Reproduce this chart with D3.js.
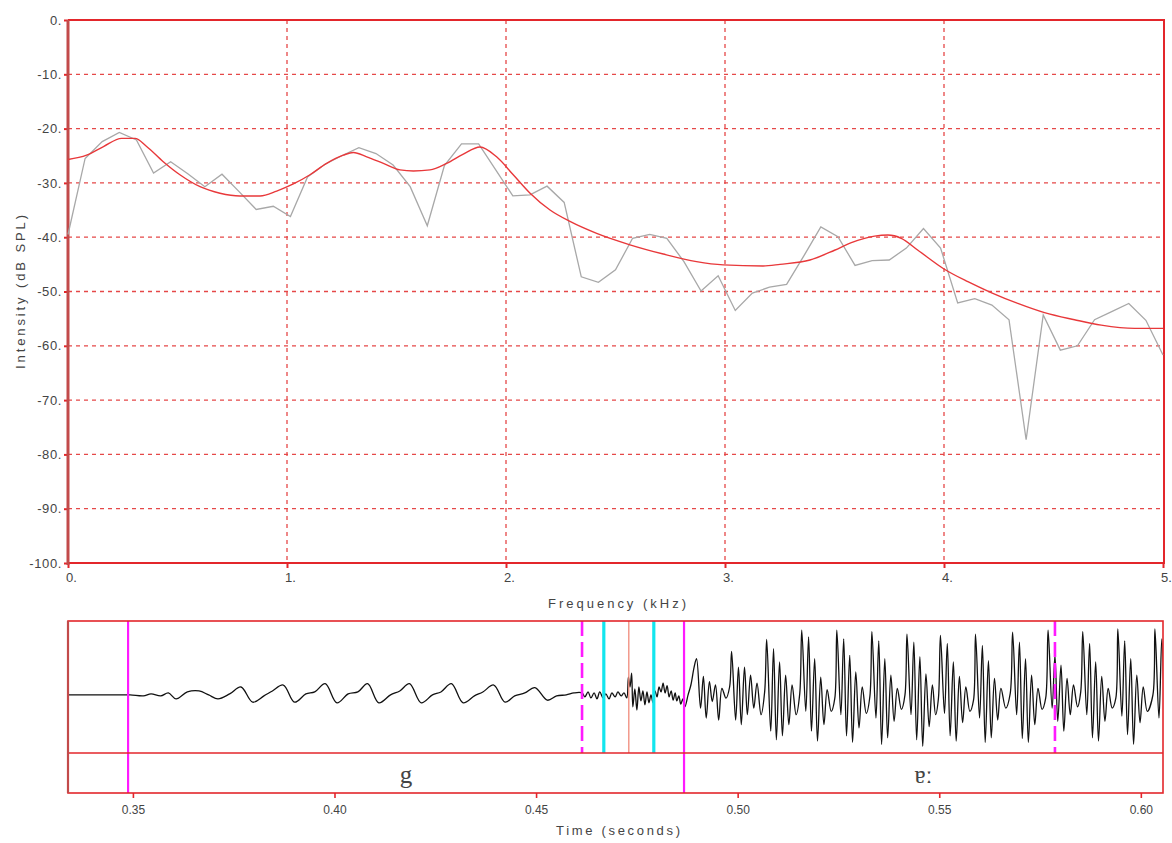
<!DOCTYPE html>
<html><head><meta charset="utf-8">
<script src="https://cdn.jsdelivr.net/npm/d3@7"></script>
<style>
body{margin:0;background:#fff;}
svg{display:block;}
text{font-family:"Liberation Sans",Arial,sans-serif;fill:#444;}
</style></head>
<body>
<svg id="chart" width="1172" height="843"></svg>
<script>
// ---------- DATA ----------
const binWidthKHz = 0.078125;
const spectrumDB = [-39.5,-25.5,-22.4,-20.7,-22.1,-28.2,-26.1,-28.3,-30.7,-28.4,-31.6,-34.9,-34.3,-36.2,-28.9,-26.6,
 -25.0,-23.5,-24.6,-26.7,-30.7,-37.9,-26.8,-22.8,-22.8,-27.6,-32.4,-32.2,-30.6,-33.6,-47.3,-48.3,-46.0,-40.2,-39.5,
 -40.2,-44.5,-49.9,-47.1,-53.5,-50.3,-49.2,-48.7,-43.5,-38.1,-39.9,-45.2,-44.3,-44.2,-42.0,-38.4,-42.0,-52.1,-51.3,
 -52.5,-55.2,-77.3,-54.3,-60.8,-60.0,-55.2,-53.7,-52.2,-55.3,-61.7];
const envelopeKHz = [0,0.085,0.162,0.245,0.306,0.359,0.435,0.511,0.603,0.694,0.785,0.877,0.953,1.029,1.105,1.181,1.257,1.303,
 1.364,1.440,1.516,1.577,1.653,1.729,1.805,1.881,1.957,2.033,2.110,2.201,2.292,2.414,2.566,2.718,2.870,2.992,3.174,3.251,
 3.388,3.500,3.577,3.683,3.744,3.805,3.881,4.002,4.109,4.215,4.337,4.459,4.596,4.718,4.870,5.000];
const envelopeDB = [-25.7,-24.9,-23.3,-21.8,-21.8,-23.3,-26.1,-28.5,-30.7,-31.9,-32.4,-32.4,-31.5,-30.2,-28.5,-26.4,-24.9,-24.4,
 -25.2,-26.4,-27.6,-27.8,-27.6,-26.4,-24.7,-23.4,-25.2,-28.5,-31.9,-35.0,-37.1,-39.3,-41.4,-43.1,-44.5,-45.1,-45.3,-45.0,
 -44.2,-42.4,-41.0,-39.8,-39.6,-40.2,-42.4,-45.9,-48.2,-50.2,-52.2,-53.9,-55.2,-56.2,-56.8,-56.8];
const freqTicks = [0,1,2,3,4,5];
const freqTickLabels = ["0.","1.","2.","3.","4.","5."];
const dbTicks = [0,-10,-20,-30,-40,-50,-60,-70,-80,-90,-100];
const dbTickLabels = ["0.","-10.","-20.","-30.","-40.","-50.","-60.","-70.","-80.","-90.","-100."];
const timeTicks = [0.35,0.40,0.45,0.50,0.55,0.60];
const timeTickLabels = ["0.35","0.40","0.45","0.50","0.55","0.60"];
const timeDomain = [0.3339,0.6055];

// waveform: pre-voicing (g closure)
const waveClosure = [[0.3341,0],[0.3456,0],[0.3493,0],[0.3526,-0.015],[0.3545,0.015],[0.3569,-0.015],[0.3588,0.03],[0.3607,-0.06],
 [0.3635,0.045],[0.3664,0.06],[0.3688,0],[0.3711,-0.06],[0.3740,0.015],[0.3768,0.12],[0.3797,-0.11],[0.3825,-0.015],[0.3846,0.06],
 [0.3873,0.15],[0.3901,-0.11],[0.3929,0.015],[0.3951,0.045],[0.3977,0.17],[0.4006,-0.12],[0.4034,0.015],[0.4058,0.045],[0.4082,0.17],
 [0.4110,-0.12],[0.4139,0],[0.4162,0.06],[0.4186,0.17],[0.4215,-0.12],[0.4243,0],[0.4264,0.045],[0.4290,0.17],[0.4319,-0.12],
 [0.4347,-0.015],[0.4368,0.045],[0.4395,0.15],[0.4423,-0.11],[0.4447,-0.015],[0.4472,0.03],[0.4497,0.11],[0.4528,-0.08],
 [0.4551,-0.015],[0.4575,0],[0.4594,0.03]];
// burst / transition
const waveBurst = [[0.4614,0.03],[0.4621,-0.03],[0.4629,0.045],[0.4636,-0.045],[0.4644,0.03],[0.4651,-0.06],[0.4658,0.045],
 [0.4666,-0.045],[0.4673,0.015],[0.4681,-0.06],[0.4688,0.03],[0.4696,-0.03],[0.4703,0.045],[0.4711,-0.015],[0.4718,0.03],
 [0.4725,-0.045],[0.4729,0.27],[0.4733,0.12],[0.4737,0.33],[0.4740,-0.18],[0.4745,0.09],[0.4750,-0.23],[0.4755,0.12],
 [0.4760,-0.09],[0.4765,0.06],[0.4770,-0.15],[0.4775,0.045],[0.4780,-0.12],[0.4785,0],[0.4790,-0.12],[0.4795,0.06],
 [0.4800,-0.03],[0.4805,0.12],[0.4810,0.045],[0.4815,0.18],[0.4820,0.03],[0.4825,0.14],[0.4830,-0.03],[0.4835,0.06],
 [0.4840,-0.08],[0.4845,0.03],[0.4849,-0.09],[0.4854,-0.015],[0.4859,-0.14],[0.4864,-0.06],[0.4869,-0.18],[0.4877,0],
 [0.4884,0.15],[0.4892,0.42]];
// vowel: one list per glottal period
const waveVowel = [
 [[0.4898,0.55],[0.4908,-0.20],[0.4915,0.28],[0.4922,-0.35],[0.4930,0.20],[0.4937,-0.10],[0.4945,0.15],[0.4953,-0.38],[0.4961,0.10],[0.4971,-0.05],[0.4980,0.12]],
 [[0.4985,0.66],[0.4995,-0.38],[0.5002,0.42],[0.5009,-0.45],[0.5017,0.42],[0.5024,-0.30],[0.5032,0.30],[0.5040,-0.20],[0.5048,0.18],[0.5058,-0.30],[0.5067,0.05]],
 [[0.5072,0.84],[0.5082,-0.55],[0.5089,0.70],[0.5096,-0.68],[0.5104,0.50],[0.5111,-0.62],[0.5119,0.30],[0.5127,-0.45],[0.5135,0.15],[0.5145,-0.30],[0.5154,0.02]],
 [[0.5159,0.98],[0.5169,-0.25],[0.5176,0.88],[0.5183,-0.55],[0.5191,0.55],[0.5198,-0.70],[0.5206,0.27],[0.5214,-0.45],[0.5222,0.08],[0.5232,-0.25],[0.5241,-0.05]],
 [[0.5246,0.98],[0.5256,-0.30],[0.5263,0.85],[0.5270,-0.62],[0.5278,0.60],[0.5285,-0.72],[0.5293,0.35],[0.5301,-0.50],[0.5309,0.12],[0.5319,-0.28],[0.5328,-0.02]],
 [[0.5333,0.96],[0.5343,-0.35],[0.5350,0.82],[0.5357,-0.75],[0.5365,0.55],[0.5372,-0.65],[0.5380,0.30],[0.5388,-0.40],[0.5396,0.10],[0.5406,-0.22],[0.5415,0.00]],
 [[0.5420,0.92],[0.5430,-0.30],[0.5437,0.80],[0.5444,-0.68],[0.5452,0.58],[0.5459,-0.78],[0.5467,0.32],[0.5475,-0.48],[0.5483,0.15],[0.5491,-0.30],[0.5498,-0.05]],
 [[0.5503,0.90],[0.5513,-0.28],[0.5520,0.78],[0.5527,-0.62],[0.5535,0.50],[0.5542,-0.70],[0.5550,0.28],[0.5558,-0.42],[0.5566,0.12],[0.5576,-0.25],[0.5585,-0.08]],
 [[0.5590,0.92],[0.5600,-0.35],[0.5607,0.75],[0.5614,-0.72],[0.5622,0.52],[0.5629,-0.65],[0.5637,0.25],[0.5645,-0.38],[0.5653,0.10],[0.5665,-0.20],[0.5676,0.02]],
 [[0.5682,0.95],[0.5692,-0.30],[0.5699,0.80],[0.5706,-0.66],[0.5714,0.55],[0.5721,-0.72],[0.5729,0.30],[0.5737,-0.45],[0.5745,0.10],[0.5755,-0.22],[0.5764,-0.05]],
 [[0.5770,0.98],[0.5780,-0.20],[0.5787,0.60],[0.5794,-0.40],[0.5802,0.45],[0.5809,-0.55],[0.5817,0.25],[0.5825,-0.30],[0.5833,0.15],[0.5843,-0.18],[0.5851,0.05]],
 [[0.5856,0.96],[0.5866,-0.30],[0.5873,0.78],[0.5880,-0.65],[0.5888,0.50],[0.5895,-0.70],[0.5903,0.28],[0.5911,-0.40],[0.5919,0.10],[0.5929,-0.20],[0.5938,-0.05]],
 [[0.5943,1.00],[0.5953,-0.32],[0.5960,0.82],[0.5967,-0.60],[0.5975,0.55],[0.5982,-0.75],[0.5990,0.30],[0.5998,-0.42],[0.6006,0.12],[0.6016,-0.25],[0.6030,0.00]],
 [[0.6035,1.00],[0.6045,-0.35],[0.6052,0.85],[0.6059,-0.60]]
];
const boundaries = [
 {t:0.3488, kind:"segment"},
 {t:0.4614, kind:"dashed"},
 {t:0.4668, kind:"cyan"},
 {t:0.4730, kind:"thin"},
 {t:0.4792, kind:"cyan"},
 {t:0.4867, kind:"segment"},
 {t:0.5787, kind:"dashed"}
];
const segLabels = [{start:0.3488,end:0.4867,label:"g"},{start:0.4867,end:0.6055,label:"ɐː"}];

// ---------- DRAW ----------
const svg = d3.select("#chart");
const RED = "#e3262b", DARKRED = "#c24a4a", GRID = "#e54848";

// spectrum panel
const xF = d3.scaleLinear().domain([0,5]).range([68,1163]);
const yD = d3.scaleLinear().domain([-100,0]).range([563,20]);

const grid = svg.append("g");
grid.selectAll("line.h").data(dbTicks.filter(d=>d>-100 && d<0)).join("line")
  .attr("x1",xF(0)).attr("x2",xF(5)).attr("y1",d=>yD(d)).attr("y2",d=>yD(d))
  .attr("stroke",GRID).attr("stroke-width",1.3).attr("stroke-dasharray","4,4");
grid.selectAll("line.v").data(freqTicks.filter(d=>d>0 && d<5)).join("line")
  .attr("y1",yD(0)).attr("y2",yD(-100)).attr("x1",d=>xF(d)).attr("x2",d=>xF(d))
  .attr("stroke",GRID).attr("stroke-width",1.3).attr("stroke-dasharray","4,4");

const yAxis = d3.axisLeft(yD).tickValues(dbTicks).tickSize(4).tickPadding(2)
  .tickFormat((d,i)=>dbTickLabels[i]);
const gy = svg.append("g").attr("transform",`translate(${xF(0)},0)`).call(yAxis);
gy.select(".domain").remove();
gy.selectAll(".tick line").attr("stroke",RED).attr("stroke-width",2);
gy.selectAll(".tick text").attr("font-size",13).attr("fill","#444").style("letter-spacing","0.6px");

const xAxis = d3.axisBottom(xF).tickValues(freqTicks).tickSize(5).tickPadding(5)
  .tickFormat((d,i)=>freqTickLabels[i]);
const gx = svg.append("g").attr("transform",`translate(0,${yD(-100)})`).call(xAxis);
gx.select(".domain").remove();
gx.selectAll(".tick line").attr("stroke",RED).attr("stroke-width",2);
gx.selectAll(".tick text").attr("font-size",13).attr("fill","#444").attr("dx",3);

// frame
svg.append("line").attr("x1",xF(0)).attr("x2",xF(5)+2).attr("y1",yD(0)).attr("y2",yD(0)).attr("stroke",RED).attr("stroke-width",2);
svg.append("line").attr("x1",xF(5)+1).attr("x2",xF(5)+1).attr("y1",yD(0)).attr("y2",yD(-100)).attr("stroke",RED).attr("stroke-width",2);
svg.append("line").attr("x1",xF(0)).attr("x2",xF(5)+2).attr("y1",yD(-100)).attr("y2",yD(-100)).attr("stroke",RED).attr("stroke-width",2.2);
svg.append("line").attr("x1",xF(0)).attr("x2",xF(0)).attr("y1",yD(0)).attr("y2",yD(-100)+2).attr("stroke",DARKRED).attr("stroke-width",3);

// spectrum lines
const specLine = d3.line().x((d,i)=>xF(i*binWidthKHz)).y(d=>yD(d));
svg.append("path").datum(spectrumDB).attr("d",specLine)
  .attr("fill","none").attr("stroke","#a8a8a8").attr("stroke-width",1.3);
const envLine = d3.line().curve(d3.curveMonotoneX).x((d,i)=>xF(envelopeKHz[i])).y(d=>yD(d));
svg.append("path").datum(envelopeDB).attr("d",envLine)
  .attr("fill","none").attr("stroke","#e8383a").attr("stroke-width",1.4);

// titles
svg.append("text").attr("x",617).attr("y",608).attr("text-anchor","middle").attr("font-size",13)
  .attr("textLength",138).attr("lengthAdjust","spacing").text("Frequency (kHz)");
svg.append("text").attr("transform","translate(25,292) rotate(-90)").attr("text-anchor","middle").attr("font-size",13)
  .attr("textLength",154).attr("lengthAdjust","spacing").text("Intensity (dB SPL)");

// waveform panel
const xT = d3.scaleLinear().domain(timeDomain).range([68,1163]);
const yA = d3.scaleLinear().domain([-0.88,1.12]).range([753,621]);
const boxTop = 621, boxMid = 753, boxBot = 793;

svg.append("clipPath").attr("id","wclip").append("rect")
  .attr("x",xT(timeDomain[0])).attr("y",boxTop).attr("width",xT(timeDomain[1])-xT(timeDomain[0])).attr("height",boxMid-boxTop);

const wave = waveClosure.concat(waveBurst, ...waveVowel);
svg.append("path").datum(wave).attr("clip-path","url(#wclip)")
  .attr("d",d3.line().curve(d3.curveCatmullRom.alpha(0.5)).x(d=>xT(d[0])).y(d=>yA(d[1])))
  .attr("fill","none").attr("stroke","#111").attr("stroke-width",1.3).attr("stroke-linejoin","round");

// boundary lines
const bl = svg.append("g");
boundaries.forEach(b=>{
  const x = xT(b.t);
  let l = bl.append("line").attr("x1",x).attr("x2",x).attr("y1",boxTop);
  if(b.kind==="segment") l.attr("y2",boxBot).attr("stroke","#ff1aff").attr("stroke-width",2.2);
  else if(b.kind==="dashed") l.attr("y2",boxMid).attr("stroke","#ff1aff").attr("stroke-width",2.6).attr("stroke-dasharray","15,6");
  else if(b.kind==="cyan") l.attr("y2",boxMid).attr("stroke","#12e6ee").attr("stroke-width",3.2);
  else l.attr("y2",boxMid).attr("stroke","#f08a7a").attr("stroke-width",1.3);
});

// box frame
svg.append("rect").attr("x",xT(timeDomain[0])).attr("y",boxTop).attr("width",xT(timeDomain[1])-xT(timeDomain[0]))
  .attr("height",boxBot-boxTop).attr("fill","none").attr("stroke",RED).attr("stroke-width",1.6);
svg.append("line").attr("x1",xT(timeDomain[0])).attr("x2",xT(timeDomain[1])).attr("y1",boxMid).attr("y2",boxMid)
  .attr("stroke",RED).attr("stroke-width",1.6);
svg.append("line").attr("x1",xT(timeDomain[0])).attr("x2",xT(timeDomain[0])).attr("y1",boxTop).attr("y2",boxBot)
  .attr("stroke",DARKRED).attr("stroke-width",2.2);

// segment labels
svg.selectAll("text.seg").data(segLabels).join("text")
  .attr("x",d=>xT((d.start+d.end)/2)).attr("y",783).attr("text-anchor","middle")
  .style("font-family",'"Liberation Serif","DejaVu Serif",serif').attr("font-size",25).attr("fill","#444")
  .text(d=>d.label);

// time axis
const tAxis = d3.axisBottom(xT).tickValues(timeTicks).tickSize(5).tickPadding(7)
  .tickFormat((d,i)=>timeTickLabels[i]);
const gt = svg.append("g").attr("transform",`translate(0,${boxBot})`).call(tAxis);
gt.select(".domain").remove();
gt.selectAll(".tick line").attr("stroke",RED).attr("stroke-width",1.6);
gt.selectAll(".tick text").attr("font-size",12).attr("fill","#444");

svg.append("text").attr("x",618).attr("y",835).attr("text-anchor","middle").attr("font-size",13)
  .attr("textLength",124).attr("lengthAdjust","spacing").text("Time (seconds)");
</script>
</body></html>
